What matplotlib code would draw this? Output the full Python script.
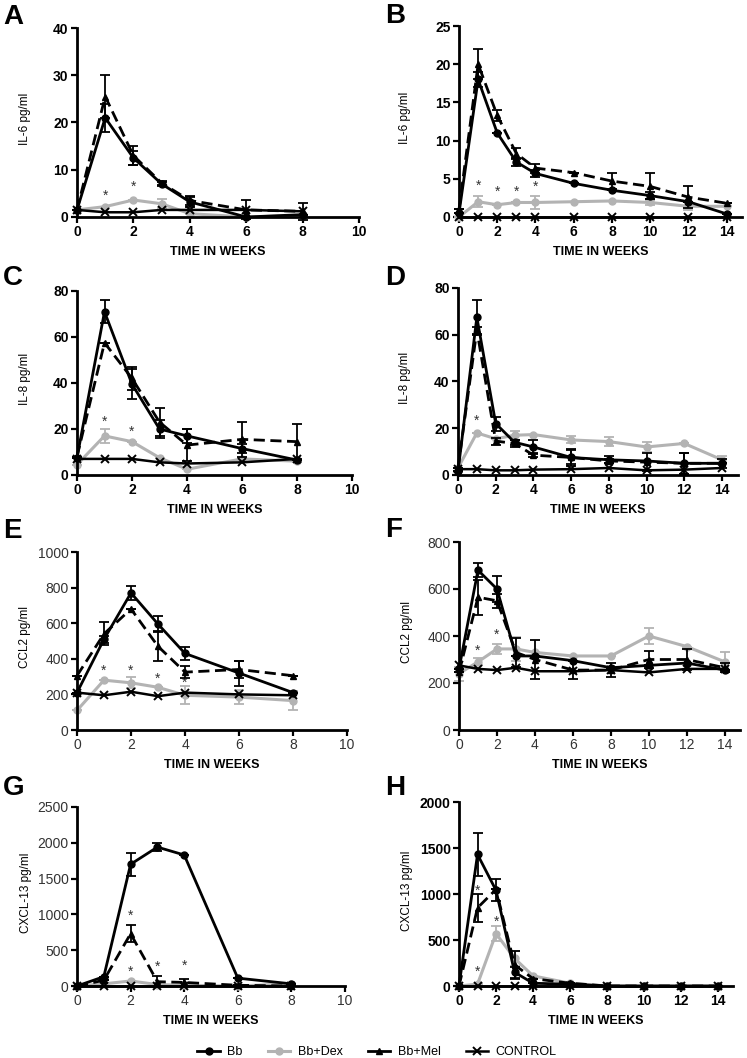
import matplotlib
matplotlib.use("Agg")
import matplotlib.pyplot as plt
from matplotlib.lines import Line2D

plt.rcParams["font.family"] = ["Liberation Sans", "DejaVu Sans"]

W, H = 747, 1058

T_LEFT = [0, 1, 2, 3, 4, 6, 8]
T_RIGHT = [0, 1, 2, 3, 4, 6, 8, 10, 12, 14]

# ---- A: IL-6, weeks 0-8 ----
A_BB = [1.5, 21, 12.5, 7, 3.2, 0, 0.5]
A_BB_ERR = [0, 3, 1.5, 0.5, 1, 0, 0]
A_DEX = [1.5, 2.2, 3.6, 2.8, 0.7, 0, 0.3]
A_DEX_ERR = [0, 0, 0, 1, 0, 0, 0]
A_MEL = [1.5, 25.5, 13, 7.2, 3.5, 1.5, 1.2]
A_MEL_ERR = [0, 4.5, 2, 0.5, 1, 2, 1.8]
A_CTRL = [1.5, 1.0, 1.0, 1.5, 1.5, 1.5, 1.2]
A_STARS = [(1, 4.5), (2, 6.5)]

# ---- B: IL-6, weeks 0-14 ----
B_BB = [0.5, 18, 11, 7.2, 5.7, 4.4, 3.5, 2.8, 2.0, 0.4]
B_BB_ERR = [0, 1, 0, 0.5, 0.5, 0, 0, 0.5, 0, 0]
B_DEX = [0, 2.0, 1.6, 1.9, 1.9, 2.0, 2.1, 1.9, 1.4, 1.4]
B_DEX_ERR = [0, 0.7, 0, 0, 0.8, 0, 0, 0.3, 0.5, 0]
B_MEL = [1, 20, 13.3, 8.3, 6.4, 5.8, 4.7, 4.0, 2.6, 1.8]
B_MEL_ERR = [0, 2, 0.7, 0.7, 0.6, 0, 1.1, 1.7, 1.4, 0]
B_CTRL = [0, 0, 0, 0, 0, 0, 0, 0, 0, 0]
B_STARS = [(1, 4.1), (2, 3.3), (3, 3.3), (4, 3.9)]

# ---- C: IL-8, weeks 0-8 ----
C_BB = [7.5, 71, 39.5, 20, 17, 11.5, 6.5]
C_BB_ERR = [0, 5, 6.5, 4, 3, 2, 0]
C_DEX = [4.5, 17, 14.5, 7.5, 2.5, 7, 6]
C_DEX_ERR = [0, 3, 0, 0, 0, 0, 0]
C_MEL = [8, 57.5, 42, 23, 13, 15.5, 14.5]
C_MEL_ERR = [0, 0, 5, 6, 7, 7.5, 7.5]
C_CTRL = [7, 7, 7, 5.5, 5, 5.5, 7]
C_STARS = [(1, 23), (2, 19)]

# ---- D: IL-8, weeks 0-14 ----
D_BB = [1.5, 67.5, 22, 14, 12, 7.5, 6.5, 6, 5, 5]
D_BB_ERR = [0, 7.5, 3, 1, 3, 3, 1.5, 0, 4.5, 0]
D_DEX = [3, 18, 15.5, 17, 17.3, 15, 14.3, 12, 13.5, 6.5]
D_DEX_ERR = [0, 0, 0, 2, 0, 1.5, 2, 2, 0, 1.5]
D_MEL = [3, 62, 14.5, 13.5, 8.5, 7.5, 6, 5.5, 5, 5]
D_MEL_ERR = [0, 1.5, 1.5, 1.5, 1, 3.5, 1, 4, 4.5, 2]
D_CTRL = [2.5, 2.5, 2, 2, 2.3, 2.5, 3, 2, 2.3, 3]
D_STARS = [(1, 23)]

# ---- E: CCL2, weeks 0-8 ----
E_BB = [210, 510, 770, 595, 430, 320, 210]
E_BB_ERR = [0, 20, 40, 45, 35, 70, 0]
E_DEX = [110, 280, 265, 240, 195, 185, 165]
E_DEX_ERR = [0, 0, 30, 0, 50, 40, 55]
E_MEL = [305, 540, 680, 470, 325, 340, 305]
E_MEL_ERR = [0, 65, 0, 85, 35, 50, 0]
E_CTRL = [210, 195, 215, 190, 210, 200, 195]
E_STARS = [(1, 330), (2, 335), (3, 290), (4, 265)]

# ---- F: CCL2, weeks 0-14 ----
F_BB = [260, 680, 600, 315, 315, 295, 265, 275, 285, 255]
F_BB_ERR = [0, 30, 55, 0, 0, 0, 0, 0, 0, 0]
F_DEX = [240, 290, 345, 345, 330, 315, 315, 400, 355, 290]
F_DEX_ERR = [30, 15, 20, 50, 0, 0, 0, 35, 0, 40]
F_MEL = [245, 565, 550, 330, 300, 255, 255, 300, 300, 265]
F_MEL_ERR = [0, 75, 30, 60, 85, 40, 30, 35, 45, 20]
F_CTRL = [275, 260, 255, 265, 250, 250, 255, 245, 260, 260]
F_STARS = [(1, 335), (2, 405)]

# ---- G: CXCL-13, weeks 0-8 ----
G_BB = [0, 130, 1700, 1940, 1830, 110, 30]
G_BB_ERR = [0, 0, 160, 60, 0, 0, 0]
G_DEX = [0, 30, 70, 20, 10, 0, 30]
G_DEX_ERR = [0, 0, 0, 0, 0, 0, 0]
G_MEL = [0, 80, 730, 60, 50, 10, 0]
G_MEL_ERR = [0, 0, 120, 80, 50, 0, 0]
G_CTRL = [0, 0, 0, 0, 0, 0, 0]
G_STARS = [(2, 980), (2, 200), (3, 270), (4, 280)]

# ---- H: CXCL-13, weeks 0-14 ----
H_BB = [0, 1430, 1040, 150, 30, 20, 0, 0, 0, 0]
H_BB_ERR = [0, 230, 120, 60, 0, 0, 0, 0, 0, 0]
H_DEX = [0, 20, 570, 300, 110, 30, 0, 0, 0, 0]
H_DEX_ERR = [0, 0, 80, 80, 0, 0, 0, 0, 0, 0]
H_MEL = [0, 850, 1050, 230, 80, 30, 0, 0, 0, 0]
H_MEL_ERR = [0, 150, 0, 150, 0, 0, 0, 0, 0, 0]
H_CTRL = [0, 0, 0, 0, 0, 0, 0, 0, 0, 0]
H_STARS = [(1, 1040), (1, 150), (2, 700)]

GREY = "#b3b3b3"


def px(l, r, t, b):
    return [l / W, 1 - b / H, (r - l) / W, (b - t) / H]


def panel(box, letter, lpos, ylab_x, t, bb, bbe, dex, dexe, mel, mele, ctrl,
          ymax, ystep, ylabel, xmax, xticks, stars, bold=True):
    l, r, top, b = box
    ax = fig.add_axes(px(l, r, top, b))
    fw = "bold" if bold else "normal"
    common = dict(clip_on=False, capsize=3.5, elinewidth=1.3, capthick=1.3)
    ax.errorbar(t, dex, yerr=dexe, color=GREY, ecolor=GREY, lw=2.2,
                marker="o", ms=5, zorder=2, **common)
    ax.plot(t, ctrl, color="black", lw=1.8, marker="x", ms=5.5, mew=1.4,
            clip_on=False, zorder=3)
    ax.errorbar(t, mel, yerr=mele, color="black", ecolor="black", lw=2,
                ls=(0, (4, 2)), marker="^", ms=5, zorder=4, **common)
    ax.errorbar(t, bb, yerr=bbe, color="black", ecolor="black", lw=2,
                marker="o", ms=5, zorder=5, **common)
    for sx, sy in stars:
        ax.text(sx, sy, "*", ha="center", va="center", fontsize=10, color="#333333")
    ax.set_xlim(0, xmax)
    ax.set_ylim(0, ymax)
    ax.set_xticks(xticks)
    ax.set_yticks(range(0, ymax + 1, ystep))
    for s in ("top", "right"):
        ax.spines[s].set_visible(False)
    for s in ("left", "bottom"):
        ax.spines[s].set_linewidth(2)
    ax.tick_params(direction="out", length=4, width=1.6, labelsize=10, pad=2)
    for lab in ax.get_xticklabels() + ax.get_yticklabels():
        lab.set_fontweight(fw)
        if not bold:
            lab.set_color("#333333")
    ax.set_xlabel("TIME IN WEEKS", fontsize=9, fontweight="bold", labelpad=5)
    ax.set_ylabel(ylabel, fontsize=8.5)
    # label anchor is its right edge; reference positions are label centres
    ax.yaxis.set_label_coords((ylab_x + 6 - l) / (r - l), 0.52)
    fig.text(lpos[0] / W, 1 - lpos[1] / H, letter, fontsize=20,
             fontweight="bold", va="center", ha="left")
    return ax


fig = plt.figure(figsize=(W / 100, H / 100), dpi=100)

L_TICKS = [0, 2, 4, 6, 8, 10]
R_TICKS = [0, 2, 4, 6, 8, 10, 12, 14]

panel((77, 359, 28, 217), "A", (3, 17), 25, T_LEFT, A_BB, A_BB_ERR, A_DEX, A_DEX_ERR,
      A_MEL, A_MEL_ERR, A_CTRL, 40, 10, "IL-6 pg/ml", 10, L_TICKS, A_STARS)
panel((459, 742, 26, 217), "B", (385, 16), 405, T_RIGHT, B_BB, B_BB_ERR, B_DEX, B_DEX_ERR,
      B_MEL, B_MEL_ERR, B_CTRL, 25, 5, "IL-6 pg/ml", 14.8, R_TICKS, B_STARS)
panel((77, 352, 291, 475), "C", (3, 278), 25, T_LEFT, C_BB, C_BB_ERR, C_DEX, C_DEX_ERR,
      C_MEL, C_MEL_ERR, C_CTRL, 80, 20, "IL-8 pg/ml", 10, L_TICKS, C_STARS)
panel((458, 738, 288, 475), "D", (385, 278), 405, T_RIGHT, D_BB, D_BB_ERR, D_DEX, D_DEX_ERR,
      D_MEL, D_MEL_ERR, D_CTRL, 80, 20, "IL-8 pg/ml", 14.85, R_TICKS, D_STARS)
panel((77, 347, 552, 730), "E", (3, 531), 25, T_LEFT, E_BB, E_BB_ERR, E_DEX, E_DEX_ERR,
      E_MEL, E_MEL_ERR, E_CTRL, 1000, 200, "CCL2 pg/ml", 10, L_TICKS, E_STARS, bold=False)
panel((459, 740, 542, 730), "F", (385, 530), 407, T_RIGHT, F_BB, F_BB_ERR, F_DEX, F_DEX_ERR,
      F_MEL, F_MEL_ERR, F_CTRL, 800, 200, "CCL2 pg/ml", 14.8, R_TICKS, F_STARS, bold=False)
panel((77, 345, 807, 986), "G", (3, 788), 26, T_LEFT, G_BB, G_BB_ERR, G_DEX, G_DEX_ERR,
      G_MEL, G_MEL_ERR, G_CTRL, 2500, 500, "CXCL-13 pg/ml", 10, L_TICKS, G_STARS, bold=False)
panel((459, 733, 802, 986), "H", (385, 788), 407, T_RIGHT, H_BB, H_BB_ERR, H_DEX, H_DEX_ERR,
      H_MEL, H_MEL_ERR, H_CTRL, 2000, 500, "CXCL-13 pg/ml", 14.8, R_TICKS, H_STARS)

handles = [
    Line2D([], [], color="black", lw=2, marker="o", ms=5),
    Line2D([], [], color=GREY, lw=2.2, marker="o", ms=5),
    Line2D([], [], color="black", lw=2, marker="^", ms=5),
    Line2D([], [], color="black", lw=1.8, marker="x", ms=5.5, mew=1.4),
]
fig.legend(handles, ["Bb", "Bb+Dex", "Bb+Mel", "CONTROL"], loc="center",
           bbox_to_anchor=(377 / W, 1 - 1052 / H), ncol=4, frameon=False,
           fontsize=9, handlelength=1.8, columnspacing=2.0, handletextpad=0.6)

fig.savefig("out.png", dpi=100, facecolor="white")
